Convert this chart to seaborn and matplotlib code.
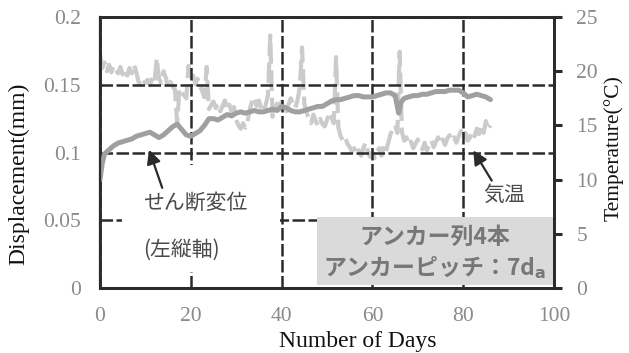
import matplotlib
matplotlib.use("Agg")
import matplotlib.pyplot as plt
from matplotlib.patches import Rectangle
import seaborn as sns
import pandas as pd

# Shear displacement of the anchor joint (left axis, mm)
disp_days = [0, 0.5, 1, 2, 3, 4, 5, 6, 7, 8, 9, 10, 11, 12, 13, 14, 15, 16, 17, 18,
             19, 20, 21, 22, 23, 24, 25, 26, 27, 28, 29, 30, 31, 32, 33, 34, 35, 36,
             37, 38, 39, 40, 41, 42, 43, 44, 45, 46, 47, 48, 49, 50, 51, 52, 53, 54,
             55, 56, 57, 58, 59, 60, 61, 62, 63, 64, 65, 65.8, 66.3, 67, 68, 69, 70,
             71, 72, 73, 74, 75, 76, 77, 78, 79, 80, 81, 82, 83, 84, 85, 86]
disp_mm = [0.080, 0.092, 0.099, 0.102, 0.105, 0.107, 0.108, 0.109, 0.110, 0.112,
           0.113, 0.114, 0.115, 0.113, 0.111, 0.113, 0.116, 0.119, 0.121, 0.117,
           0.113, 0.112, 0.114, 0.116, 0.120, 0.125, 0.125, 0.124, 0.126, 0.128,
           0.127, 0.129, 0.130, 0.129, 0.130, 0.131, 0.130, 0.130, 0.131, 0.132,
           0.131, 0.134, 0.133, 0.131, 0.130, 0.130, 0.131, 0.132, 0.133, 0.134,
           0.134, 0.136, 0.138, 0.139, 0.139, 0.140, 0.141, 0.142, 0.142, 0.141,
           0.141, 0.141, 0.142, 0.143, 0.144, 0.144, 0.142, 0.129, 0.137, 0.140,
           0.141, 0.142, 0.142, 0.143, 0.143, 0.144, 0.145, 0.145, 0.145, 0.146,
           0.146, 0.146, 0.144, 0.141, 0.142, 0.143, 0.142, 0.141, 0.139]

# Air temperature (right axis, deg C), half-day readings; one row = 6 days
temp_days = [
    0.0, 0.5, 1.0, 1.5, 2.0, 2.5, 3.0, 3.5, 4.0, 4.5, 5.0, 5.5,
    6.0, 6.5, 7.0, 7.5, 8.0, 8.5, 9.0, 9.5, 10.0, 10.5, 11.0, 11.5,
    12.0, 12.5, 13.0, 13.5, 14.0, 14.5, 15.0, 15.5, 16.0, 16.5, 17.0, 17.5,
    18.0, 18.5, 19.0, 19.5, 20.0, 20.5, 21.0, 21.5, 22.0, 22.5, 23.0, 23.5,
    24.0, 24.5, 25.0, 25.5, 26.0, 26.5, 27.0, 27.5, 28.0, 28.5, 29.0, 29.5,
    30.0, 30.5, 31.0, 31.5, 32.0, 32.5, 33.0, 33.5, 34.0, 34.5, 35.0, 35.5,
    36.0, 36.5, 37.0, 37.5, 38.0, 38.5, 39.0, 39.5, 40.0, 40.5, 41.0, 41.5,
    42.0, 42.5, 43.0, 43.5, 44.0, 44.5, 45.0, 45.5, 46.0, 46.5, 47.0, 47.5,
    48.0, 48.5, 49.0, 49.5, 50.0, 50.5, 51.0, 51.5, 52.0, 52.5, 53.0, 53.5,
    54.0, 54.5, 55.0, 55.5, 56.0, 56.5, 57.0, 57.5, 58.0, 58.5, 59.0, 59.5,
    60.0, 60.5, 61.0, 61.5, 62.0, 62.5, 63.0, 63.5, 64.0, 64.5, 65.0, 65.5,
    66.0, 66.5, 67.0, 67.5, 68.0, 68.5, 69.0, 69.5, 70.0, 70.5, 71.0, 71.5,
    72.0, 72.5, 73.0, 73.5, 74.0, 74.5, 75.0, 75.5, 76.0, 76.5, 77.0, 77.5,
    78.0, 78.5, 79.0, 79.5, 80.0, 80.5, 81.0, 81.5, 82.0, 82.5, 83.0, 83.5,
    84.0, 84.5, 85.0, 85.5, 86.0,
]
temp_c = [
    21.5, 20.3, 20.8, 20.0, 20.6, 19.9, 20.5, 20.1, 19.8, 20.4, 19.7, 20.2,
    19.6, 20.3, 19.8, 20.6, 19.9, 19.0, 18.8, 19.3, 18.9, 19.2, 18.7, 19.4,
    19.0, 21.2, 19.3, 18.9, 20.0, 19.4, 18.5, 19.0, 18.6, 18.3, 15.2, 18.4,
    18.0, 17.8, 17.5, 20.5, 19.2, 19.6, 18.8, 19.3, 18.6, 18.2, 17.6, 20.4,
    16.5, 16.9, 17.2, 16.6, 17.0, 16.3, 16.8, 17.3, 16.5, 16.9, 16.2, 16.7,
    15.5, 15.0, 14.7, 15.2, 14.8, 15.3, 16.5, 17.2, 17.6, 16.8, 17.3, 16.6,
    16.2, 16.9, 17.8, 23.3, 15.8, 16.4, 17.0, 16.5, 17.2, 16.7, 16.3, 16.9,
    17.5, 17.0, 16.6, 17.3, 18.5, 22.2, 17.0, 16.2, 15.6, 15.2, 16.0, 15.4,
    15.0, 15.6, 15.1, 14.9, 15.5, 16.2, 15.7, 15.2, 21.3, 14.8, 14.0, 13.6,
    13.9, 13.3, 13.0, 12.6, 12.9, 12.3, 12.7, 12.2, 12.9, 13.4, 12.6, 12.1,
    12.5, 12.0, 12.6, 12.9, 12.2, 13.1, 12.6, 13.4, 14.2, 14.6, 15.0, 14.3,
    21.8, 14.4, 13.6, 13.9, 13.2, 13.5, 12.9, 13.3, 13.7, 13.1, 12.8, 13.4,
    12.7, 13.2, 13.6, 13.0, 13.5, 13.9, 13.3, 13.7, 13.2, 13.8, 14.1, 13.6,
    13.9, 13.4, 14.0, 14.5, 13.8, 14.3, 13.6, 13.9, 14.4, 14.0, 14.7, 14.2,
    15.0, 14.3, 15.4, 14.6, 15.0,
]

x_ticks = [0, 20, 40, 60, 80, 100]
disp_ticks = [0, 0.05, 0.1, 0.15, 0.2]
disp_tick_labels = ["0", "0.05", "0.1", "0.15", "0.2"]
temp_ticks = [0, 5, 10, 15, 20, 25]

sns.set_theme(style="white")
plt.rcParams["font.family"] = ["Liberation Serif", "DejaVu Serif"]
jp_font = ["Noto Sans CJK JP", "DejaVu Sans"]

df_disp = pd.DataFrame({"day": disp_days, "disp": disp_mm})
df_temp = pd.DataFrame({"day": temp_days, "temp": temp_c})

fig = plt.figure(figsize=(6.29, 3.53), dpi=100)
W, H = 629, 353
ax = fig.add_axes([100 / W, (H - 288) / H, 454 / W, 271 / H])
ax2 = ax.twinx()

# temperature on the secondary axis, drawn beneath the displacement trace
sns.lineplot(data=df_temp, x="day", y="temp", ax=ax2, color="#cbcbcb",
             lw=3.0, linestyle=(0, (5, 1.6)), legend=False)
sns.lineplot(data=df_disp, x="day", y="disp", ax=ax, color="#a0a0a0",
             lw=3.6, legend=False, solid_joinstyle="round")
ax.set_zorder(ax2.get_zorder() + 1)
ax.patch.set_visible(False)

ax.set_xlim(0, 100)
ax.set_ylim(0, 0.2)
ax2.set_ylim(0, 25)
ax.set_xticks(x_ticks)
ax.set_yticks(disp_ticks)
ax.set_yticklabels(disp_tick_labels)
ax2.set_yticks(temp_ticks)

grid_kw = dict(color="#2e2a28", lw=1.8, linestyle=(0, (5, 1.4)))
ax.grid(True, axis="both", **grid_kw)
ax2.grid(False)

tick_color = "#8a8a8a"
ax.tick_params(axis="both", length=0, labelsize=15.5, labelcolor=tick_color)
ax.tick_params(axis="y", pad=14)
ax.tick_params(axis="x", pad=14)
ax2.tick_params(axis="y", direction="out", length=6, width=2.2, color="#2e2a28",
                labelsize=15.5, labelcolor=tick_color, pad=10)

for a in (ax, ax2):
    for side, sp in a.spines.items():
        sp.set_color("#2e2a28")
        sp.set_linewidth(2.0)
ax.spines["left"].set_linewidth(1.6)

ax.set_xlabel("Number of Days", fontsize=17, color="#111111")
ax.xaxis.set_label_coords(0.568, -0.158)
ax.set_ylabel("Displacement(mm)", fontsize=17, color="#111111")
ax.yaxis.set_label_coords(-0.155, 0.42)
ax2.set_ylabel("Temperature(°C)", fontsize=15.5, color="#111111")
ax2.yaxis.set_label_coords(1.11, 0.517)

# white panel behind the displacement note
ax.add_patch(Rectangle((4.8, 0.0118), 34.9, 0.079, facecolor="white",
                       edgecolor="none", zorder=3))
# grey panel with the anchor configuration
ax.add_patch(Rectangle((47.8, 0.0022), 52.0, 0.0502, facecolor="#dadada",
                       edgecolor="none", zorder=3))

note_color = "#4a4a4a"
ax.text(9.5, 0.0627, "せん断変位", family=jp_font, fontsize=15, color=note_color,
        va="center", ha="left", zorder=5)
ax.text(9.5, 0.028, "(左縦軸)", family=jp_font, fontsize=15, color=note_color,
        va="center", ha="left", zorder=5)
ax.annotate("", xy=(10.6, 0.104), xytext=(13.9, 0.072),
            arrowprops=dict(arrowstyle="-|>,head_length=0.7,head_width=0.35",
                            color="#2e2a28", lw=1.6), zorder=5)

ax.text(84.4, 0.0686, "気温", family=jp_font, fontsize=15, color=note_color,
        va="center", ha="left", zorder=5)
ax.annotate("", xy=(81.9, 0.1033), xytext=(86.6, 0.0775),
            arrowprops=dict(arrowstyle="-|>,head_length=0.7,head_width=0.35",
                            color="#2e2a28", lw=1.6), zorder=5)

box_color = "#777777"
ax.text(73.8, 0.0376, "アンカー列4本", family=jp_font, fontsize=16.5,
        fontweight="bold", color=box_color, ha="center", va="center", zorder=5)
ax.text(73.8, 0.0155, r"アンカーピッチ：7d$_\mathbf{a}$", family=jp_font, fontsize=16.5,
        fontweight="bold", color=box_color, ha="center", va="center", zorder=5)

fig.savefig("out.png", dpi=100)
